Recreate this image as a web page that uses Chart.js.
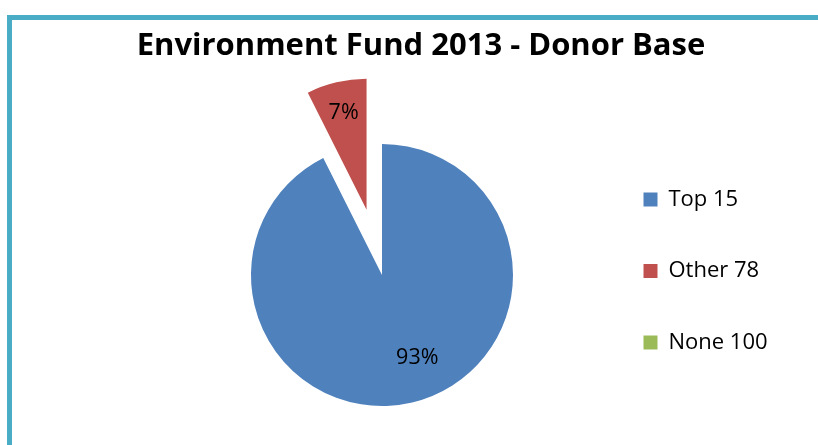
<!DOCTYPE html>
<html>
<head>
<meta charset="utf-8">
<script src="https://cdn.jsdelivr.net/npm/chart.js@4.4.1/dist/chart.umd.min.js"></script>
<style>
  html, body { margin: 0; padding: 0; background: #fff; }
  #wrap { position: relative; width: 818px; height: 445px; overflow: hidden; }
  /* the teal frame of the original chart box, only left and top edges are visible */
  #frame { position: absolute; left: 7px; top: 15px; width: 900px; height: 500px;
           border-left: 5px solid #4bacc6; border-top: 5px solid #4bacc6; }
  canvas { position: absolute; left: 0; top: 0; }
</style>
</head>
<body>
<div id="wrap">
  <div id="frame"></div>
  <canvas id="pie" width="818" height="445"></canvas>
</div>
<script>
const titleText = 'Environment Fund 2013 - Donor Base'
const categories = ['Top 15', 'Other 78', 'None 100']
const shares = [92.6, 7.4, 0]

const colors = ['#4f81bd', '#c0504d', '#9bbb59']

Chart.defaults.font.family = '"Open Sans", sans-serif'
Chart.defaults.color = '#000'

// pull a slice straight out along its middle angle (Chart.js offset also grows the slice)
const explodePlugin = {
  id: 'explode',
  afterDatasetUpdate(chart, args) {
    const shiftBy = chart.data.datasets[args.index].explode || []
    args.meta.data.forEach((arc, i) => {
      const shift = shiftBy[i] || 0
      if (!shift || arc._exploded) return
      const draw = arc.draw
      arc.draw = function(ctx, area) {
        const mid = (this.startAngle + this.endAngle) / 2
        ctx.save()
        ctx.translate(Math.cos(mid) * shift, Math.sin(mid) * shift)
        draw.call(this, ctx, area)
        ctx.restore()
      }
      arc._exploded = true
    })
  }
}

// percentage labels inside the slices
const sliceLabels = {
  id: 'sliceLabels',
  afterDatasetsDraw(chart, args, opts) {
    const ctx = chart.ctx
    const ds = chart.data.datasets[0]
    const meta = chart.getDatasetMeta(0)
    const total = ds.data.reduce((a, b) => a + b, 0)
    ctx.save()
    ctx.font = opts.font
    ctx.fillStyle = opts.color
    ctx.textAlign = 'center'
    ctx.textBaseline = 'middle'
    meta.data.forEach((arc, i) => {
      const v = ds.data[i]
      if (!v) return
      const shift = (ds.explode || [])[i] || 0
      const mid = (arc.startAngle + arc.endAngle) / 2
      const a = arc.startAngle + (arc.endAngle - arc.startAngle) * opts.along[i]
      const r = arc.outerRadius * opts.radial[i]
      const x = arc.x + Math.cos(mid) * shift + Math.cos(a) * r
      const y = arc.y + Math.sin(mid) * shift + Math.sin(a) * r
      ctx.fillText(Math.round(v / total * 100) + '%', x, y)
    })
    ctx.restore()
  }
}

// title drawn off-centre like the original (it is centred on the whole box, not the pie)
const boxTitle = {
  id: 'boxTitle',
  afterDraw(chart, args, opts) {
    const ctx = chart.ctx
    ctx.save()
    ctx.font = opts.font
    ctx.fillStyle = '#000'
    ctx.textAlign = 'center'
    ctx.textBaseline = 'alphabetic'
    ctx.fillText(opts.text, opts.x, opts.y)
    ctx.restore()
  }
}

new Chart(document.getElementById('pie'), {
  type: 'pie',
  data: {
    labels: categories,
    datasets: [{
      data: shares,
      backgroundColor: colors,
      borderWidth: 0,
      explode: [0, 67, 0]
    }]
  },
  options: {
    responsive: false,
    animation: false,
    events: [],
    radius: 131,
    layout: { padding: { left: 170, right: 44, top: 139, bottom: 34 } },
    plugins: {
      legend: {
        position: 'right',
        align: 'start',
        maxWidth: 180,
        labels: {
          boxWidth: 14,
          boxHeight: 14,
          padding: 49.5,
          font: { size: 22 }
        }
      },
      tooltip: { enabled: false },
      sliceLabels: {
        font: '21.5px "Open Sans", sans-serif',
        color: '#000',
        along: [0.471, 0.5, 0.5],
        radial: [0.69, 0.76, 0.5]
      },
      boxTitle: {
        text: titleText,
        font: 'bold 31px "Open Sans", sans-serif',
        x: 421,
        y: 55
      }
    }
  },
  plugins: [explodePlugin, sliceLabels, boxTitle]
})
</script>
</body>
</html>
